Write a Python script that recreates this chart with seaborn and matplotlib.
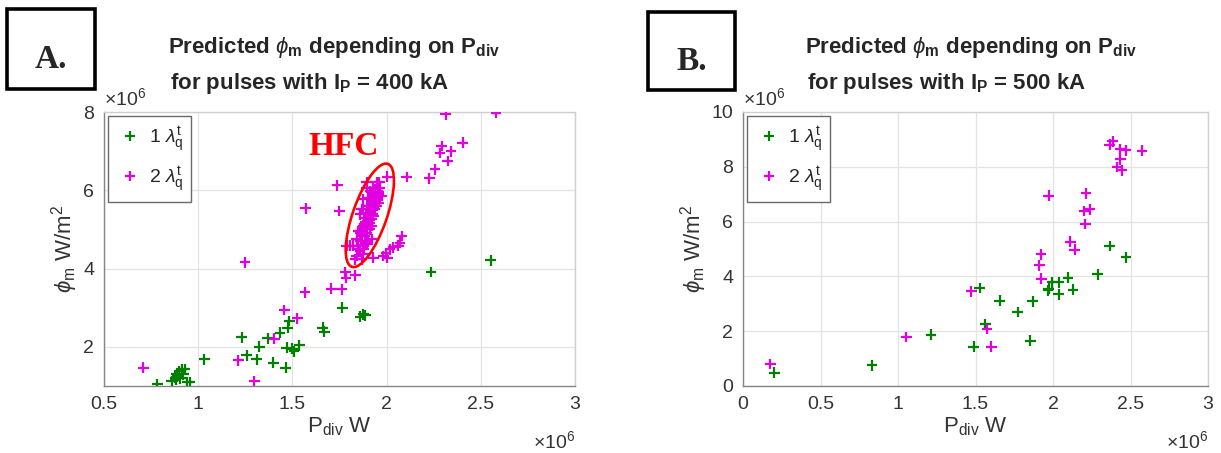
import numpy as np
import pandas as pd
import matplotlib
matplotlib.use("Agg")
import matplotlib.pyplot as plt
import matplotlib.transforms as mtransforms
from matplotlib.patches import Ellipse, Rectangle
import seaborn as sns

# ---------------- data (units of 10^6) ----------------
# Panel A: Ip = 400 kA
a1_x = [0.783, 0.859, 0.877, 0.886, 0.900, 0.912, 0.930, 0.942, 0.957, 0.890, 0.880, 0.920, 0.905,
        1.033, 1.231, 1.257, 1.310, 1.325, 1.369, 1.399, 1.434, 1.464, 1.470, 1.475, 1.484, 1.500,
        1.508, 1.537, 1.661, 1.670, 1.765, 1.859, 1.877, 1.886, 2.236, 2.553]
a1_y = [1.04, 1.13, 1.21, 1.30, 1.38, 1.43, 1.43, 1.10, 1.09, 1.25, 1.16, 1.30, 1.20,
        1.68, 2.24, 1.78, 1.68, 2.00, 2.22, 1.60, 2.36, 1.47, 1.98, 2.49, 2.66, 1.95,
        1.89, 2.04, 2.49, 2.39, 3.00, 2.77, 2.83, 2.81, 3.91, 4.21]

a2_x = [0.709, 1.213, 1.298, 1.248, 1.404, 1.457, 1.526, 1.567, 1.571, 1.705, 1.762, 1.739, 1.749,
        1.780, 1.785, 1.833, 2.004, 1.961, 1.894, 2.107, 2.227, 2.257, 2.283, 2.292, 2.324, 2.342,
        2.404, 2.314, 2.581, 1.983, 1.997, 2.004, 2.018, 2.036, 2.071, 2.080, 2.062, 1.930,
        # HFC cluster
        1.841, 1.859, 1.877, 1.823, 1.850, 1.877, 1.894, 1.841, 1.868, 1.894, 1.912, 1.850,
        1.877, 1.903, 1.921, 1.885, 1.859, 1.912, 1.938, 1.894, 1.921, 1.947, 1.877, 1.930,
        1.956, 1.974, 1.912, 1.938, 1.965, 1.894, 1.947, 1.868, 1.903, 1.930, 1.947, 1.885,
        1.832, 1.868, 1.806, 1.788, 1.921, 1.894, 1.877, 1.956, 1.930, 1.912, 1.885, 1.921,
        1.860, 1.870, 1.882, 1.898, 1.905, 1.915, 1.925, 1.935, 1.942, 1.950, 1.958, 1.900,
        1.890, 1.880, 1.910, 1.925, 1.940, 1.872, 1.862, 1.852, 1.918, 1.932, 1.905, 1.890]
a2_y = [1.47, 1.66, 1.13, 4.16, 2.21, 2.94, 2.73, 3.39, 5.54, 3.49, 3.47, 6.13, 5.47,
        3.91, 3.77, 3.83, 6.35, 6.21, 6.20, 6.34, 6.31, 6.54, 6.95, 7.13, 6.75, 7.00,
        7.22, 7.94, 7.98, 4.32, 4.39, 4.28, 4.49, 4.54, 4.66, 4.83, 4.58, 4.28,
        # HFC cluster
        4.32, 4.45, 4.36, 4.58, 4.58, 4.58, 4.66, 4.75, 4.83, 4.92, 5.00, 4.96,
        5.09, 5.17, 5.26, 5.30, 5.39, 5.43, 5.51, 5.60, 5.68, 5.77, 5.77, 5.86,
        5.90, 5.86, 5.98, 6.03, 6.07, 6.07, 6.20, 5.51, 5.81, 5.34, 5.60, 4.83,
        4.24, 4.24, 4.58, 4.58, 5.09, 5.39, 5.51, 5.68, 6.07, 5.17, 5.00, 4.75,
        4.92, 5.05, 5.13, 5.22, 5.35, 5.47, 5.55, 5.64, 5.72, 5.80, 5.95, 4.70,
        4.62, 4.50, 5.25, 5.40, 5.90, 4.88, 4.70, 4.50, 5.75, 5.95, 5.60, 5.20]

# Panel B: Ip = 500 kA
b1_x = [0.202, 0.832, 1.213, 1.488, 1.527, 1.563, 1.656, 1.772, 1.854, 1.869, 1.968, 1.972, 1.994,
        2.037, 2.037, 2.097, 2.129, 2.288, 2.366, 2.471]
b1_y = [0.48, 0.76, 1.87, 1.44, 3.58, 2.26, 3.12, 2.70, 1.65, 3.09, 3.49, 3.55, 3.79,
        3.79, 3.34, 3.95, 3.52, 4.07, 5.11, 4.70]

b2_x = [0.176, 1.054, 1.473, 1.574, 1.602, 1.912, 1.923, 1.925, 1.972, 2.112, 2.140, 2.202, 2.213,
        2.209, 2.237, 2.366, 2.385, 2.413, 2.434, 2.434, 2.445, 2.471, 2.574]
b2_y = [0.80, 1.79, 3.46, 2.08, 1.43, 4.40, 4.81, 3.91, 6.94, 5.26, 4.98, 6.39, 7.03,
        5.91, 6.45, 8.81, 8.93, 7.99, 8.28, 8.65, 7.87, 8.60, 8.59]

series_labels = [r"1 $\lambda_{\mathrm{q}}^{\mathrm{t}}$", r"2 $\lambda_{\mathrm{q}}^{\mathrm{t}}$"]
series_colors = ["#008000", "#e000e0"]

titles_l1 = r"Predicted $\phi_{\mathbf{m}}$ depending on P$_{\mathbf{div}}$"
titles_l2 = [r"for pulses with I$_{\mathbf{P}}$ = 400 kA", r"for pulses with I$_{\mathbf{P}}$ = 500 kA"]
panel_tags = ["A.", "B."]

a_xticks = [0.5, 1, 1.5, 2, 2.5, 3]
a_yticks = [2, 4, 6, 8]
b_xticks = [0, 0.5, 1, 1.5, 2, 2.5, 3]
b_yticks = [0, 2, 4, 6, 8, 10]

# ---------------- style ----------------
sns.set_theme(style="white")
plt.rcParams["font.family"] = ["Liberation Sans", "DejaVu Sans"]
plt.rcParams["mathtext.fontset"] = "custom"
plt.rcParams["mathtext.rm"] = "Liberation Sans"
plt.rcParams["mathtext.it"] = "Liberation Sans:italic"
plt.rcParams["mathtext.bf"] = "Liberation Sans:bold"

W, H = 1221, 453
fig = plt.figure(figsize=(W / 100, H / 100), dpi=100)
fig.patch.set_facecolor("white")


def fx(px):
    return px / W


def fy(py):
    return 1 - py / H


def make_df(x1, y1, x2, y2):
    return pd.DataFrame({
        "x": list(x1) + list(x2),
        "y": list(y1) + list(y2),
        "series": [series_labels[0]] * len(x1) + [series_labels[1]] * len(x2),
    })


panels = [
    dict(df=make_df(a1_x, a1_y, a2_x, a2_y), left=104, right=575, xlim=(0.5, 3), ylim=(1, 8),
         xticks=a_xticks, yticks=a_yticks, tag_box=(7, 9, 95, 89), title_x=168),
    dict(df=make_df(b1_x, b1_y, b2_x, b2_y), left=743, right=1208, xlim=(0, 3), ylim=(0, 10),
         xticks=b_xticks, yticks=b_yticks, tag_box=(648, 12, 735, 90), title_x=805),
]

top_px, bot_px = 112, 386
axes = []
for i, p in enumerate(panels):
    ax = fig.add_axes([fx(p["left"]), fy(bot_px), fx(p["right"] - p["left"]), (bot_px - top_px) / H])
    axes.append(ax)
    sns.scatterplot(data=p["df"], x="x", y="y", hue="series", hue_order=series_labels,
                    palette=dict(zip(series_labels, series_colors)), marker="+", s=60,
                    linewidth=1.6, ax=ax, legend=True, zorder=3)
    ax.set_xlim(*p["xlim"])
    ax.set_ylim(*p["ylim"])
    ax.set_xticks(p["xticks"])
    ax.set_yticks(p["yticks"])
    ax.set_xticklabels(["%g" % t for t in p["xticks"]])
    ax.set_yticklabels(["%g" % t for t in p["yticks"]])
    ax.grid(True, color="#e3e3e3", linewidth=0.9, zorder=0)
    ax.set_axisbelow(True)
    for side in ["left", "bottom"]:
        ax.spines[side].set_color("#858585")
        ax.spines[side].set_linewidth(1.0)
    for side in ["top", "right"]:
        ax.spines[side].set_color("#d0d0d0")
        ax.spines[side].set_linewidth(1.0)
    ax.tick_params(direction="in", length=4, width=0.9, color="#858585", labelsize=14,
                   labelcolor="#333333", pad=7)
    ax.set_xlabel(r"P$_{\mathrm{div}}$ W", fontsize=16, color="#333333", labelpad=2)
    ax.set_ylabel(r"$\phi_{\mathrm{m}}$ W/m$^2$", fontsize=16, color="#333333", labelpad=2)

    h, l = ax.get_legend_handles_labels()
    ax.legend(h, l, loc="upper left", bbox_to_anchor=(0.008, 0.985), borderaxespad=0,
              fontsize=14, frameon=True, fancybox=False, framealpha=1, edgecolor="#6a6a6a",
              handletextpad=0.2, borderpad=0.4, labelspacing=0.55, handlelength=1.5,
              markerscale=1.0)

    # x10^6 exponent labels
    ax.text(0.0, 1.01, r"$\times10^6$", transform=ax.transAxes, ha="left", va="bottom",
            fontsize=14, color="#333333")
    ax.text(1.0, -0.16, r"$\times10^6$", transform=ax.transAxes, ha="right", va="top",
            fontsize=14, color="#333333")

    # titles
    fig.text(fx(p["title_x"]), fy(48), titles_l1, fontsize=16, fontweight="bold",
             ha="left", va="center")
    fig.text(fx(p["title_x"] + 2), fy(84), titles_l2[i], fontsize=16, fontweight="bold",
             ha="left", va="center")

    # panel tag box
    x0, y0, x1, y1 = p["tag_box"]
    fig.patches.append(Rectangle((fx(x0), fy(y1)), fx(x1 - x0), (y1 - y0) / H,
                                 transform=fig.transFigure, fill=False, edgecolor="black",
                                 linewidth=2.6, zorder=5))
    fig.text(fx((x0 + x1) / 2), fy((y0 + y1) / 2 + 10), panel_tags[i], family="Liberation Serif",
             fontweight="bold", fontsize=24, ha="center", va="center")

# HFC annotation on panel A
axA = axes[0]
trans = fig.dpi_scale_trans + mtransforms.ScaledTranslation(1.911, 5.36, axA.transData)
axA.add_patch(Ellipse((0, 0), width=1.09, height=0.34, angle=70.7, transform=trans,
                      fill=False, edgecolor="#ff0000", linewidth=1.9, zorder=4))
axA.text(1.773, 7.11, "HFC", family="Liberation Serif", fontweight="bold", fontsize=24,
         color="#ff0000", ha="center", va="center", zorder=5)

fig.savefig("out.png", dpi=100, facecolor="white")
